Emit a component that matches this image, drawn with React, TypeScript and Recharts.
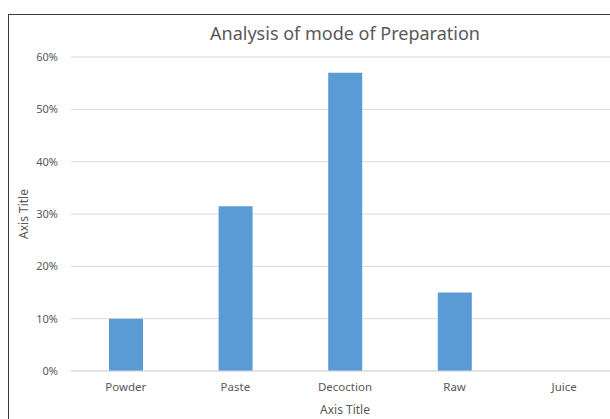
import { BarChart, Bar, XAxis, YAxis, CartesianGrid } from 'recharts';

const categories = ['Powder', 'Paste', 'Decoction', 'Raw', 'Juice'];
const shares = [0.1, 0.315, 0.57, 0.15, 0];
const yTicks = [0, 0.1, 0.2, 0.3, 0.4, 0.5, 0.6];

const data = categories.map((name, i) => ({ name, share: shares[i] }));

const FONT = '"Noto Sans", sans-serif';
const TEXT = '#595959';

const yTitle = (props: any) => {
  const vb = props.viewBox;
  const x = 14;
  const y = vb.y + vb.height / 2;
  return (
    <text
      x={x}
      y={y}
      transform={`rotate(-90, ${x}, ${y})`}
      textAnchor="middle"
      dominantBaseline="central"
      fill={TEXT}
      fontSize={12}
      fontFamily={FONT}
    >
      Axis Title
    </text>
  );
};

const xTitle = (props: any) => {
  const vb = props.viewBox;
  return (
    <text
      x={vb.x + vb.width / 2}
      y={vb.y + vb.height + 8}
      textAnchor="middle"
      dominantBaseline="central"
      fill={TEXT}
      fontSize={12}
      fontFamily={FONT}
    >
      Axis Title
    </text>
  );
};

export default function App() {
  return (
    <div style={{ position: 'absolute', left: 8, top: 14, width: 602, height: 405, overflow: 'hidden' }}>
      <div
        style={{
          position: 'relative',
          width: 700,
          height: 500,
          borderTop: '1px solid #3c3c3c',
          borderLeft: '1px solid #3c3c3c',
          background: '#fff',
        }}
      >
        <div
          style={{
            position: 'absolute',
            left: 0,
            top: 7,
            width: 672,
            textAlign: 'center',
            fontFamily: FONT,
            fontSize: 18,
            lineHeight: '22px',
            color: TEXT,
          }}
        >
          Analysis of mode of Preparation
        </div>
        <BarChart width={610} height={404} data={data} margin={{ top: 42, right: 0, bottom: 18, left: 0 }}>
          <CartesianGrid vertical={false} stroke="#d9d9d9" />
          <XAxis
            dataKey="name"
            height={30}
            tickLine={false}
            axisLine={{ stroke: '#d9d9d9' }}
            tickMargin={6}
            tick={{ fill: TEXT, fontSize: 11.5, fontFamily: FONT }}
            label={{ content: xTitle }}
          />
          <YAxis
            width={62}
            domain={[0, 0.6]}
            ticks={yTicks}
            axisLine={false}
            tickLine={false}
            tickMargin={7}
            tickFormatter={(v: number) => `${Math.round(v * 100)}%`}
            tick={{ fill: TEXT, fontSize: 11, fontFamily: FONT }}
            label={{ content: yTitle }}
          />
          <Bar dataKey="share" fill="#5b9bd5" barSize={34} isAnimationActive={false} />
        </BarChart>
      </div>
    </div>
  );
}
